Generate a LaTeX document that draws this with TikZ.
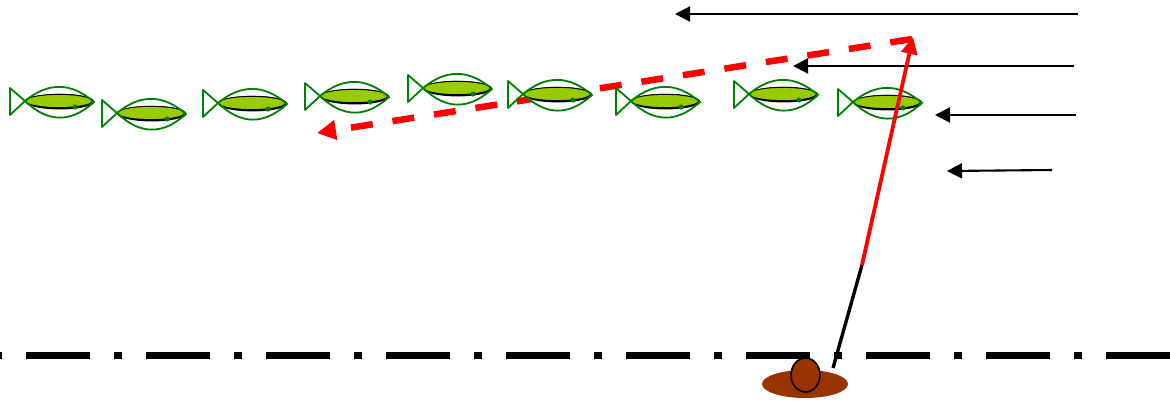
\documentclass[tikz,border=0pt]{standalone}
\usetikzlibrary{arrows.meta}
\definecolor{fishgreen}{HTML}{008000}
\definecolor{fishfill}{HTML}{99CC00}
\definecolor{mud}{HTML}{993300}
\begin{document}
\begin{tikzpicture}[x=1pt,y=-1pt,
  flow/.style={line width=2.1pt,-{Triangle[length=15pt,width=15pt]}},
  shot/.style={red,line width=3.8pt,-{Triangle[length=17pt,width=16pt]}},
  echo/.style={red,line width=6.5pt,dash pattern=on 22pt off 20pt,-{Triangle[length=19pt,width=19pt]}},
  pole/.style={line width=3.4pt},
  axisline/.style={line width=7pt,dash pattern=on 64pt off 24pt on 8pt off 24pt,dash phase=94pt},
  fishline/.style={fishgreen,line width=1.8pt,line join=round}]
\useasboundingbox (0,0) rectangle (1170,400);

% a fish whose tail joins its body at the given point
\newcommand{\drawfish}[2]{%
  \begin{scope}[shift={(#1,#2)}]
    \draw[fishline] (0,0) -- (-15,-13) -- (-15,14) -- cycle;
    \fill[white] (0,0) .. controls (23,-19) and (46,-19) .. (69,1)
                       .. controls (46,22) and (23,22) .. (0,0);
    \fill[black] (34.8,0.6) ellipse[x radius=34.5,y radius=7.8];
    \filldraw[fishfill,draw=black,line width=0.9pt] (34,0) ellipse[x radius=33.5,y radius=6.6];
    \draw[fishline] (0,0) .. controls (23,-19) and (46,-19) .. (69,1)
                          .. controls (46,22) and (23,22) .. (0,0);
    \fill[fishgreen] (50,6) circle[radius=2.6];
  \end{scope}}

% ground line
\coordinate (gl) at (0,355);
\coordinate (gr) at (1170,355);
\draw[axisline] (gl) -- (gr);

% echo path, drawn below the school
\coordinate (echoStart) at (912,39);
\coordinate (echoEnd) at (317,133);
\draw[echo] (echoStart) -- (echoEnd);

% the school of fish
\drawfish{25}{101}
\drawfish{117}{113}
\drawfish{218}{103}
\drawfish{320}{96}
\drawfish{423}{88}
\drawfish{523}{94}
\drawfish{631}{101}
\drawfish{749}{94}
\drawfish{853}{102}

% current arrows
\coordinate (c1a) at (1078,14);  \coordinate (c1b) at (675,14);
\coordinate (c2a) at (1074,66);  \coordinate (c2b) at (793,66);
\coordinate (c3a) at (1076,115); \coordinate (c3b) at (935,115);
\coordinate (c4a) at (1052,170); \coordinate (c4b) at (947,171);
\draw[flow] (c1a) -- (c1b);
\draw[flow] (c2a) -- (c2b);
\draw[flow] (c3a) -- (c3b);
\draw[flow] (c4a) -- (c4b);

% transducer on the bottom
\fill[mud] (805,384) ellipse[x radius=43,y radius=14];
\filldraw[mud,draw=black,line width=1.6pt] (805.5,375) ellipse[x radius=14.5,y radius=17];

% pole and outgoing beam
\coordinate (poleFoot) at (833,368);
\coordinate (poleTop) at (862,265);
\coordinate (beamTip) at (913,37);
\draw[pole] (poleFoot) -- (poleTop);
\draw[shot] (poleTop) -- (beamTip);
\end{tikzpicture}
\end{document}
